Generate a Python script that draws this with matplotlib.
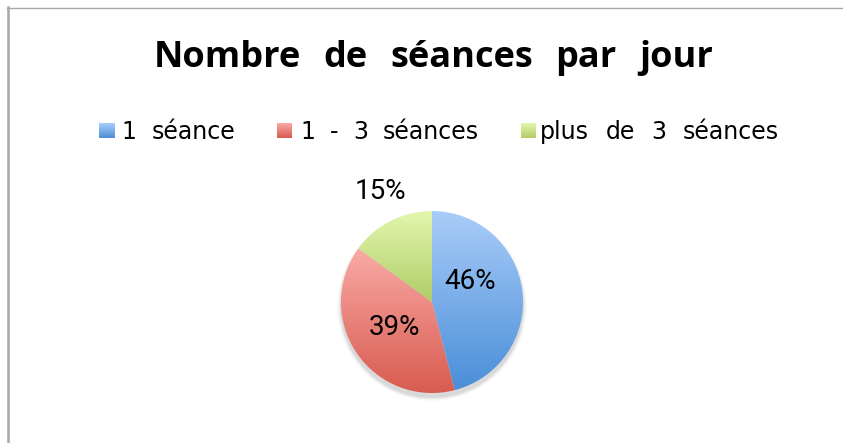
import numpy as np
import matplotlib
matplotlib.use("Agg")
import matplotlib.pyplot as plt
from matplotlib.patches import Circle
from matplotlib.colors import LinearSegmentedColormap
from matplotlib.lines import Line2D

plt.rcParams['font.family'] = ['DejaVu Sans']

title = "Nombre de séances par jour"
categories = ["1 séance", "1 - 3 séances", "plus de 3 séances"]
shares = [46, 39, 15]
# light (top) and dark (bottom) tone of each slice
light = ["#a9cdf9", "#f9aaa6", "#e3f6ae"]
dark = ["#4a8ed8", "#d85a4e", "#b0cc66"]
# label anchor positions in pie coordinates (radius = 1)
label_pos = [(0.42, 0.22), (-0.41, -0.285), (-0.57, 1.21)]

W, H = 843, 443
fig = plt.figure(figsize=(W / 100, H / 100), dpi=100)
renderer = fig.canvas.get_renderer()


def fx(px):
    return px / W


def fy(py):
    return 1 - py / H


def spaced_text(text, x0, x1, y, **kw):
    """Lay out the words of `text` between pixel columns x0..x1 with even,
    generous word spacing, on the baseline at pixel row y."""
    words = text.split(" ")
    items = [fig.text(0, fy(y), w, ha="left", va="baseline", **kw) for w in words]
    widths = [t.get_window_extent(renderer).width for t in items]
    gap = (x1 - x0 - sum(widths)) / max(len(words) - 1, 1)
    x = x0
    for t, w in zip(items, widths):
        t.set_x(fx(x))
        x += w + gap
    return items


def gradient_square(x0, y0, size, c_top, c_bot):
    sq = fig.add_axes([fx(x0), fy(y0 + size), size / W, size / H])
    cmap = LinearSegmentedColormap.from_list("sq", [c_bot, c_top])
    sq.imshow(np.linspace(0, 1, 64).reshape(-1, 1), cmap=cmap, origin="lower",
              aspect="auto", extent=(0, 1, 0, 1))
    sq.axis("off")


# frame lines along the top and left edge
fig.add_artist(Line2D([fx(7), 1], [fy(7.5)] * 2, color="#a6a6a6", lw=1.0,
                      transform=fig.transFigure))
fig.add_artist(Line2D([fx(8)] * 2, [0, fy(7)], color="#a6a6a6", lw=1.8,
                      transform=fig.transFigure))

# title
spaced_text(title, 154, 713, 67, fontsize=26, fontweight="bold", color="black",
            family=["Open Sans", "DejaVu Sans"])

# legend: marker square + label for each category
legend_marker_x = [99, 277, 521]
legend_text_span = [(121, 235), (300, 479), (540, 779)]
for cat, c0, c1, mx, (tx0, tx1) in zip(categories, light, dark,
                                        legend_marker_x, legend_text_span):
    gradient_square(mx, 123, 15, c0, c1)
    spaced_text(cat, tx0, tx1, 139, fontsize=17, color="black")

# pie axes
cx, cy, R = 432, 302, 91
lim = 1.25
side = 2 * lim * R
ax = fig.add_axes([fx(cx - side / 2), fy(cy + side / 2), side / W, side / H])
ax.set_xlim(-lim, lim)
ax.set_ylim(-lim, lim)
ax.set_aspect("equal")
ax.axis("off")

# soft drop shadow
for r, a in [(1.04, 0.03), (1.025, 0.05), (1.01, 0.07)]:
    ax.add_patch(Circle((0, -0.045), r, color="black", alpha=a, lw=0, zorder=0))

wedges, _ = ax.pie(shares, startangle=90, counterclock=False, radius=1.0,
                   colors=dark, wedgeprops=dict(linewidth=0))

# vertical light-to-dark gradient inside every slice
for w, c0, c1 in zip(wedges, light, dark):
    v = w.get_path().vertices
    x0, x1 = v[:, 0].min(), v[:, 0].max()
    y0, y1 = v[:, 1].min(), v[:, 1].max()
    cmap = LinearSegmentedColormap.from_list("g", [c1, c0])
    im = ax.imshow(np.linspace(0, 1, 256).reshape(-1, 1), cmap=cmap,
                   extent=(x0, x1, y0, y1), origin="lower", aspect="auto",
                   zorder=2, interpolation="bilinear")
    im.set_clip_path(w)
    w.set_facecolor("none")

ax.set_xlim(-lim, lim)
ax.set_ylim(-lim, lim)

for v, (px, py) in zip(shares, label_pos):
    ax.text(px, py, f"{v}%", ha="center", va="center", fontsize=20,
            family=["Roboto", "DejaVu Sans"], color="black", zorder=5)

fig.savefig("out.png", dpi=100)
